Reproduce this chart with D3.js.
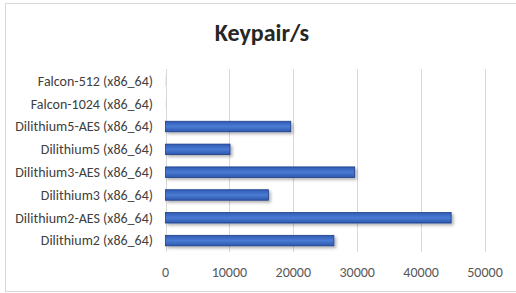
<!DOCTYPE html>
<html><head><meta charset="utf-8">
<script src="https://cdn.jsdelivr.net/npm/d3@7"></script>
<style>html,body{margin:0;padding:0;background:#fff;}svg{display:block;}</style>
</head><body>
<svg id="chart" width="516" height="293"></svg>
<script>
const categories = ["Falcon-512 (x86_64)","Falcon-1024 (x86_64)","Dilithium5-AES (x86_64)","Dilithium5 (x86_64)","Dilithium3-AES (x86_64)","Dilithium3 (x86_64)","Dilithium2-AES (x86_64)","Dilithium2 (x86_64)"];
const values = [20, 10, 19600, 10100, 29600, 16100, 44700, 26350];
const tickValues = [0, 10000, 20000, 30000, 40000, 50000];
const title = "Keypair/s";

const svg = d3.select("#chart");
const font = "Calibri, Carlito, 'Open Sans', sans-serif";

// chart border
svg.append("rect").attr("x",5.5).attr("y",3.5).attr("width",520).attr("height",288)
  .attr("fill","#fff").attr("stroke","#d9d9d9").attr("stroke-width",1);

const defs = svg.append("defs");
const g1 = defs.append("linearGradient").attr("id","barGrad").attr("x1",0).attr("y1",0).attr("x2",0).attr("y2",1);
g1.append("stop").attr("offset","0%").attr("stop-color","#2f5bb5");
g1.append("stop").attr("offset","50%").attr("stop-color","#4a7bd3");
g1.append("stop").attr("offset","100%").attr("stop-color","#2e58af");
const f = defs.append("filter").attr("id","shadow").attr("x","-10%").attr("y","-50%").attr("width","130%").attr("height","250%");
f.append("feDropShadow").attr("dx",2).attr("dy",2).attr("stdDeviation",1.5).attr("flood-color","#000").attr("flood-opacity",0.3);

const x = d3.scaleLinear().domain([0, 50000]).range([165.5, 485]);
const y = d3.scaleBand().domain(categories).range([69.5, 252]).paddingInner(0.54).paddingOuter(0.27);

// gridlines
svg.append("g").selectAll("line").data(tickValues).join("line")
  .attr("x1", d => Math.round(x(d)) + 0.5).attr("x2", d => Math.round(x(d)) + 0.5)
  .attr("y1", 69).attr("y2", 252)
  .attr("stroke", "#d9d9d9").attr("stroke-width", 1);

// x tick labels
svg.append("g").selectAll("text").data(tickValues).join("text")
  .attr("x", d => x(d)).attr("y", 277)
  .attr("text-anchor","middle")
  .attr("font-family", font).attr("font-size", 14).attr("fill","#595959")
  .text(d => d);

// bars
svg.append("g").selectAll("rect").data(values).join("rect")
  .attr("x", x(0))
  .attr("y", (d,i) => y(categories[i]))
  .attr("width", d => x(d) - x(0))
  .attr("height", y.bandwidth())
  .attr("fill","url(#barGrad)")
  .attr("stroke", d => (x(d) - x(0)) > 2 ? "#1f3f86" : "none").attr("stroke-width",0.8)
  .attr("filter","url(#shadow)");

// category labels
svg.append("g").selectAll("text").data(categories).join("text")
  .attr("x", 153).attr("y", d => y(d) + y.bandwidth()/2)
  .attr("dy","0.35em")
  .attr("text-anchor","end")
  .attr("font-family", font).attr("font-size", 14).attr("fill","#404040")
  .text(d => d);

// title
svg.append("text").attr("x", 262).attr("y", 41)
  .attr("text-anchor","middle")
  .attr("font-family", font).attr("font-size", 24).attr("font-weight","bold").attr("fill","#262626")
  .text(title);
</script>
</body></html>
